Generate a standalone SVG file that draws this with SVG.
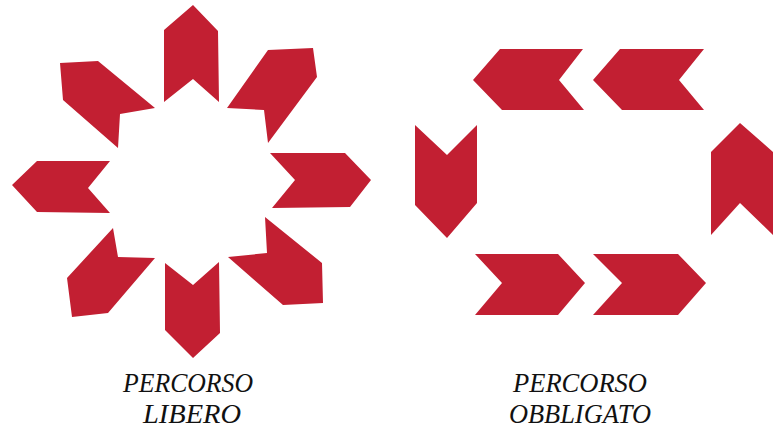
<svg xmlns="http://www.w3.org/2000/svg" width="778" height="429" viewBox="0 0 778 429">
<style>
.a{fill:#c21f32}
.t{font-family:"Liberation Serif","Times New Roman",serif;font-style:italic;font-size:28px;fill:#111;text-anchor:middle}
</style>
<rect width="778" height="429" fill="#fff"/>
<g id="libero">
<polygon class="a" points="193,5 218,31 219,102 193,79 164,102 164,30"/>
<polygon class="a" points="371,180 345,153 270,153 295,180 272,208 350,207"/>
<polygon class="a" points="12,185 37,161 110,161 88,188 110,213 37,212"/>
<polygon class="a" points="193,358 165,330 165,263 193,285 219,262 220,333"/>
<polygon class="a" points="60,63 98,61 155,108 120,114 118,148 63,100"/>
<polygon class="a" points="268,50 313,48 317,77 268,143 264,110 227,108"/>
<polygon class="a" points="113,228 118,257 155,258 108,313 72,317 67,278"/>
<polygon class="a" points="265,217 267,253 228,257 283,305 323,303 322,263"/>
</g>
<g id="obbligato">
<polygon class="a" points="473,80 500,49 583,49 559,80 584,110 502,110"/>
<polygon class="a" points="593,80 620,49 704,49 679,80 704,110 622,110"/>
<polygon class="a" points="415,125 447,155 477,125 477,203 447,238 415,205"/>
<polygon class="a" points="740,123 773,152 773,235 740,203 711,235 711,152"/>
<polygon class="a" points="475,254 558,254 585,283 558,315 475,315 502,283"/>
<polygon class="a" points="593,254 678,254 706,283 678,315 593,315 622,283"/>
</g>
<g id="labels">
<text class="t" x="188" y="392" textLength="130" lengthAdjust="spacingAndGlyphs">PERCORSO</text>
<text class="t" x="192" y="423" textLength="98" lengthAdjust="spacingAndGlyphs">LIBERO</text>
<text class="t" x="580" y="392" textLength="134" lengthAdjust="spacingAndGlyphs">PERCORSO</text>
<text class="t" x="580" y="423" textLength="142" lengthAdjust="spacingAndGlyphs">OBBLIGATO</text>
</g>
</svg>
